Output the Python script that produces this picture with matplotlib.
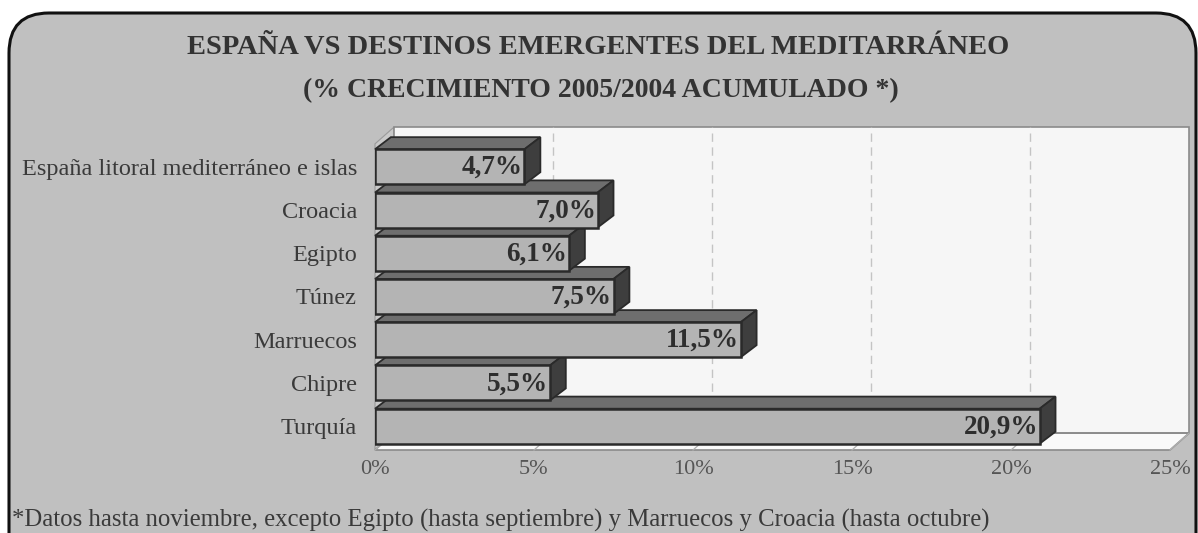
import matplotlib

matplotlib.use("Agg")
import matplotlib.pyplot as plt
from matplotlib.patches import FancyBboxPatch, Polygon, Rectangle

# data (bottom to top as drawn)
CATEGORIES = [
    "Turquía",
    "Chipre",
    "Marruecos",
    "Túnez",
    "Egipto",
    "Croacia",
    "España litoral mediterráneo e islas",
]
VALUES = [20.9, 5.5, 11.5, 7.5, 6.1, 7.0, 4.7]
VALUE_LABELS = ["20,9%", "5,5%", "11,5%", "7,5%", "6,1%", "7,0%", "4,7%"]
TICKS = [0, 5, 10, 15, 20, 25]
TICK_LABELS = ["0%", "5%", "10%", "15%", "20%", "25%"]

TITLE = "ESPAÑA VS DESTINOS EMERGENTES DEL MEDITARRÁNEO"
SUBTITLE = "(% CRECIMIENTO 2005/2004 ACUMULADO *)"
FOOTNOTE = ("*Datos hasta noviembre, excepto Egipto (hasta septiembre) "
            "y Marruecos y Croacia (hasta octubre)")

SERIF = "Liberation Serif"
BG = "#C0C0C0"
FRONT = "#B4B4B4"
TOP = "#6E6E6E"
SIDE = "#3E3E3E"
EDGE = "#2A2A2A"
TEXT = "#3A3A3A"

W, H = 1198, 533
fig = plt.figure(figsize=(W / 100, H / 100), dpi=100)
fig.patch.set_facecolor("white")

# frame in pixel coordinates
bg = fig.add_axes([0, 0, 1, 1])
bg.set_xlim(0, W)
bg.set_ylim(H, 0)
bg.axis("off")
bg.add_patch(FancyBboxPatch((9, 13), 1187, 560, boxstyle="round,pad=0,rounding_size=40",
                            facecolor=BG, edgecolor="#111111", linewidth=2.2))
bg.text(598, 48, TITLE, ha="center", va="center", family=SERIF, fontweight="bold",
        fontsize=20.5, color="#333333")
bg.text(601, 91, SUBTITLE, ha="center", va="center", family=SERIF, fontweight="bold",
        fontsize=20, color="#333333")
bg.text(12, 520, FOOTNOTE, ha="left", va="center", family=SERIF, fontsize=17.8,
        color=TEXT)

# chart axes: x in %, y in category index
Y0, Y1 = -0.55, 6.92
ax = fig.add_axes([375 / W, 1 - 450 / H, 795 / W, 323 / H])
ax.set_xlim(0, 25)
ax.set_ylim(Y0, Y1)
for s in ax.spines.values():
    s.set_visible(False)
ax.patch.set_visible(False)

WDX, WDY = 0.6, 0.39    # wall depth
BDX, BDY = 0.5, 0.28    # bar depth
BH = 0.81

# left wall, floor, back wall
ax.add_patch(Polygon([(0, Y0), (WDX, Y0 + WDY), (WDX, Y1), (0, Y1 - WDY)],
                     closed=True, facecolor="#C9C9C9", edgecolor="#9A9A9A",
                     linewidth=0.8, clip_on=False, zorder=1))
ax.add_patch(Rectangle((WDX, Y0 + WDY), 25, Y1 - Y0 - WDY, facecolor="#F6F6F6",
                       edgecolor="#8A8A8A", linewidth=1.2, clip_on=False, zorder=1))
ax.add_patch(Polygon([(0, Y0), (25, Y0), (25 + WDX, Y0 + WDY), (WDX, Y0 + WDY)],
                     closed=True, facecolor="#FAFAFA", edgecolor="#8A8A8A",
                     linewidth=1.2, clip_on=False, zorder=1))
for t in TICKS[1:-1]:
    ax.plot([t + WDX, t + WDX], [Y0 + WDY, Y1], color="#C4C4C4", linewidth=1.0,
            linestyle=(0, (6, 4)), clip_on=False, zorder=1.5)
for t in TICKS:
    ax.plot([t, t + WDX], [Y0, Y0 + WDY], color="#B0B0B0", linewidth=0.9,
            clip_on=False, zorder=1.5)

# bars, bottom to top so upper bars cover lower top faces
for i, (v, lab) in enumerate(zip(VALUES, VALUE_LABELS)):
    z = 2 + i
    yb, yt = i - BH / 2, i + BH / 2
    ax.add_patch(Polygon([(0, yt), (v, yt), (v + BDX, yt + BDY), (BDX, yt + BDY)],
                         closed=True, facecolor=TOP, edgecolor=EDGE, linewidth=1.3,
                         clip_on=False, zorder=z))
    ax.add_patch(Polygon([(v, yb), (v + BDX, yb + BDY), (v + BDX, yt + BDY), (v, yt)],
                         closed=True, facecolor=SIDE, edgecolor=EDGE, linewidth=1.3,
                         clip_on=False, zorder=z))
    ax.barh(i, v, height=BH, color=FRONT, edgecolor=EDGE, linewidth=1.8, zorder=z)
    ax.text(v - 0.05, i - 0.02, lab, ha="right", va="center", family=SERIF,
            fontweight="bold", fontsize=19.5, color="#2E2E2E", zorder=z + 0.5)

ax.set_yticks(range(len(CATEGORIES)))
ax.set_yticklabels(CATEGORIES, family=SERIF, fontsize=17.5, color=TEXT)
ax.set_xticks(TICKS)
ax.set_xticklabels(TICK_LABELS, family=SERIF, fontsize=16, color="#555555")
ax.tick_params(axis="y", length=0, pad=13)
ax.tick_params(axis="x", length=0, pad=7)

fig.savefig("out.png", dpi=100)
